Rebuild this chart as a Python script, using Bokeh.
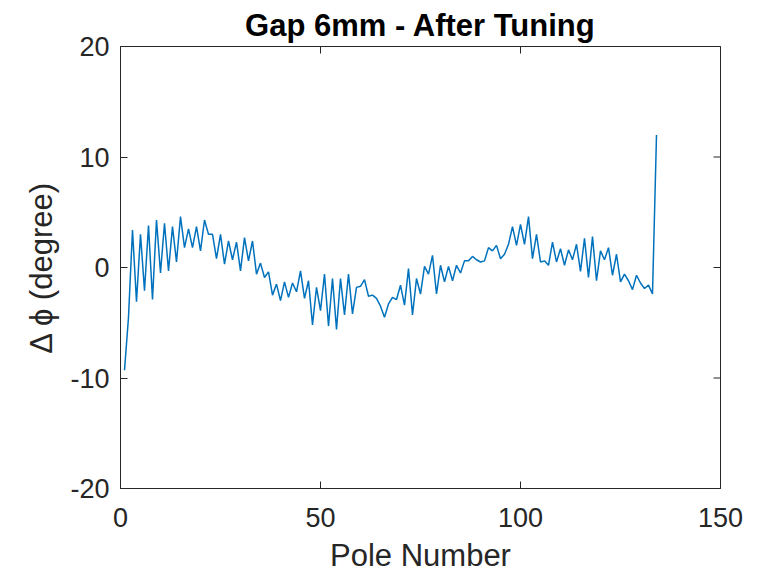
import math
from bokeh.plotting import figure
from bokeh.models import FixedTicker
from bokeh.embed import file_html
from bokeh.resources import INLINE

# ---- data ----
poles = list(range(1, 135))
dphi = [
    -9.3, -4.5, 3.4, -3.1, 3.0, -2.1, 3.8, -2.9, 4.3, -0.5,
    4.0, -0.3, 3.7, 0.5, 4.6, 1.8, 3.5, 1.8, 3.7, 1.5,
    4.3, 3.0, 3.0, 0.8, 3.0, 0.3, 2.4, 0.7, 2.3, -0.3,
    2.7, 0.6, 2.4, -0.6, 0.4, -0.9, -0.4, -2.5, -1.5, -3.0,
    -1.3, -2.7, -1.4, -2.2, -0.3, -2.8, -1.2, -5.2, -1.8, -3.9,
    -0.6, -5.3, -1.0, -5.6, -1.0, -4.3, -0.6, -4.2, -1.8, -1.7,
    -1.1, -2.6, -2.5, -2.8, -3.5, -4.5, -3.3, -2.7, -2.9, -1.6,
    -3.4, -0.1, -4.3, -1.0, -2.4, 0.1, -0.6, 1.1, -2.4, 0.2,
    -1.3, 0.1, -1.2, 0.2, -0.5, 0.6, 0.6, 1.0, 0.7, 0.5,
    0.6, 1.8, 1.5, 2.0, 0.8, 1.2, 2.1, 3.7, 2.0, 3.9,
    2.1, 4.6, 0.8, 3.0, 0.5, 0.6, 0.2, 2.3, 0.5, 1.7,
    0.2, 1.6, 0.7, 2.1, -0.35, 2.65, -0.9, 2.8, -1.2, 1.5,
    0.7, 1.8, -0.7, 1.2, -1.3, -0.6, -1.2, -2.0, -0.7, -1.4,
    -1.9, -1.6, -2.4, 12.0,
]
x_ticks = [0, 50, 100, 150]
y_ticks = [-20, -10, 0, 10, 20]
title_text = "Gap 6mm - After Tuning"
x_label = "Pole Number"
y_label = "Δ ϕ (degree)"

FONT = "Liberation Sans"
DARK = "#262626"
X0, X1 = x_ticks[0], x_ticks[-1]
Y0, Y1 = y_ticks[0], y_ticks[-1]

p = figure(width=767, height=577, x_range=(X0, X1), y_range=(Y0, Y1),
           output_backend="svg", toolbar_location=None,
           min_border_left=120, min_border_right=47,
           min_border_top=46, min_border_bottom=89)
p.background_fill_color = "white"
p.border_fill_color = "white"
p.outline_line_color = DARK
p.outline_line_width = 1
p.grid.visible = False

p.title.text = title_text
p.title.align = "center"
p.title.text_font = FONT
p.title.text_font_size = "31px"
p.title.text_font_style = "bold"
p.title.text_color = "black"
p.title.standoff = 8

p.line(poles, dphi, line_color="#0072BD", line_width=1.5)

# inward tick marks on the top and right edges (half of each dash is clipped by the frame)
p.scatter(x=x_ticks, y=[Y1] * len(x_ticks), marker="dash", size=14,
          angle=math.pi / 2, line_color=DARK, line_width=1)
p.scatter(x=[X1] * len(y_ticks), y=y_ticks, marker="dash", size=14,
          line_color=DARK, line_width=1)

for ax in (p.xaxis[0], p.yaxis[0]):
    ax.axis_line_color = DARK
    ax.major_tick_line_color = DARK
    ax.major_tick_in = 7
    ax.major_tick_out = 0
    ax.minor_tick_line_color = None
    ax.major_label_text_color = DARK
    ax.major_label_text_font = FONT
    ax.major_label_text_font_size = "27px"
    ax.axis_label_text_font = FONT
    ax.axis_label_text_font_size = "31px"
    ax.axis_label_text_font_style = "normal"
    ax.axis_label_text_color = DARK

p.xaxis.ticker = FixedTicker(ticks=x_ticks)
p.yaxis.ticker = FixedTicker(ticks=y_ticks)
p.xaxis.major_label_overrides = {t: str(t) for t in x_ticks}
p.yaxis.major_label_overrides = {t: str(t) for t in y_ticks}
p.xaxis.major_label_standoff = 19
p.yaxis.major_label_standoff = 11

p.xaxis.axis_label = x_label
p.yaxis.axis_label = y_label
p.xaxis.axis_label_standoff = 8
p.yaxis.axis_label_standoff = 8

open("out.html", "w").write(file_html(p, INLINE))
